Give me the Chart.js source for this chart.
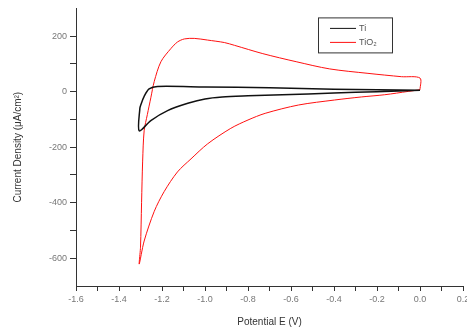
<!DOCTYPE html>
<html>
<head>
<meta charset="utf-8">
<script src="https://cdn.jsdelivr.net/npm/chart.js@4.4.0/dist/chart.umd.min.js"></script>
<style>
  html, body { margin: 0; padding: 0; background: #fff; }
  #wrap { width: 467px; height: 335px; }
</style>
</head>
<body>
<div id="wrap"><canvas id="cv"></canvas></div>
<script>
"use strict";
// values
const seriesNames = ["Ti", "TiO\u2082"];

const tiPotential = [0.0, -0.2, -0.4, -0.64, -0.8, -0.92, -1.0, -1.08, -1.174, -1.252, -1.306,
  -1.303, -1.298, -1.283, -1.26, -1.221, -1.0, -0.7, -0.4, -0.2, 0.0];
const tiCurrent = [5, 0, -5, -11, -15, -19, -26, -42, -68, -104, -141,
  -60, -46, -17, 10, 19, 17, 14, 9, 7, 5];

const tio2Potential = [0.0, -0.055, -0.164, -0.273, -0.397, -0.565, -0.72, -0.8, -0.88, -0.988, -1.065,
  -1.128, -1.19, -1.236, -1.283, -1.306, -1.300, -1.295, -1.29, -1.283, -1.268,
  -1.252, -1.236, -1.205, -1.159, -1.128, -1.096, -1.05, -0.989, -0.91, -0.863,
  -0.731, -0.576, -0.42, -0.242, -0.086, 0.0, 0.0];
const tio2Current = [7, 1, -11, -19, -30, -48, -78, -102, -132, -188, -242,
  -289, -360, -431, -538, -621, -560, -400, -250, -141, -82,
  -22, 37, 108, 155, 179, 190, 192, 186, 177, 167,
  137, 108, 82, 66, 54, 49, 7];

const xTickValues = [-1.6, -1.5, -1.4, -1.3, -1.2, -1.1, -1.0, -0.9, -0.8, -0.7,
  -0.6, -0.5, -0.4, -0.3, -0.2, -0.1, 0.0, 0.1, 0.2];
const xTickLabels = ["-1.6", "-1.4", "-1.2", "-1.0", "-0.8", "-0.6", "-0.4", "-0.2", "0.0", "0.2"];
const yTickValues = [-600, -500, -400, -300, -200, -100, 0, 100, 200];
const yTickLabels = ["-600", "-400", "-200", "0", "200"];

const toPoints = (xs, ys) => xs.map((x, i) => ({ x: x, y: ys[i] }));

const axisColor = "#333";
const tickFont = { family: "Liberation Sans, Arial, sans-serif", size: 9 };
const titleFont = { family: "Liberation Sans, Arial, sans-serif", size: 10 };

// boxed legend inside the plot, like the original
const boxLegend = {
  id: "boxLegend",
  afterDraw(chart) {
    const ctx = chart.ctx;
    const a = chart.chartArea;
    const bx = a.left + 242, by = a.top + 9, bw = 74, bh = 35;
    ctx.save();
    ctx.strokeStyle = "#333";
    ctx.lineWidth = 1;
    ctx.strokeRect(bx + 0.5, by + 0.5, bw, bh);
    ctx.font = "9px Liberation Sans, DejaVu Sans, sans-serif";
    ctx.textBaseline = "middle";
    chart.data.datasets.forEach((ds, i) => {
      const ly = by + 11 + i * 14;
      ctx.strokeStyle = ds.borderColor;
      ctx.lineWidth = 1;
      ctx.beginPath();
      ctx.moveTo(bx + 12, ly);
      ctx.lineTo(bx + 38, ly);
      ctx.stroke();
      ctx.fillStyle = "#555";
      ctx.fillText(ds.label, bx + 41, ly);
    });
    ctx.restore();
  },
};

new Chart(document.getElementById("cv"), {
  type: "scatter",
  data: {
    datasets: [
      {
        label: seriesNames[0],
        data: toPoints(tiPotential, tiCurrent),
        showLine: true,
        borderColor: "#111",
        borderWidth: 1.5,
        pointRadius: 0,
        tension: 0.3,
      },
      {
        label: seriesNames[1],
        data: toPoints(tio2Potential, tio2Current),
        showLine: true,
        borderColor: "#ff1010",
        borderWidth: 1,
        pointRadius: 0,
        tension: 0.3,
      },
    ],
  },
  options: {
    responsive: true,
    maintainAspectRatio: false,
    animation: false,
    layout: { padding: { top: 8, right: 4, left: 0, bottom: 0 } },
    plugins: {
      legend: { display: false },
      tooltip: { enabled: false },
    },
    scales: {
      x: {
        type: "linear",
        position: "bottom",
        min: -1.6,
        max: 0.2,
        afterBuildTicks: (s) => { s.ticks = xTickValues.map((v) => ({ value: v })); },
        afterFit: (s) => { s.height = 49; s.paddingRight = 0; s.paddingLeft = 0; },
        ticks: {
          autoSkip: false,
          maxRotation: 0,
          padding: 3,
          color: "#777",
          font: tickFont,
          callback: (v) => {
            const t = v.toFixed(1);
            return xTickLabels.includes(t) ? t : "";
          },
        },
        grid: { drawOnChartArea: false, tickLength: 5, color: axisColor },
        border: { display: true, color: axisColor, width: 1 },
        title: {
          display: true,
          text: "Potential E (V)",
          color: "#333",
          font: titleFont,
          padding: { top: 0, bottom: 7 },
        },
      },
      y: {
        type: "linear",
        min: -700,
        max: 300,
        afterBuildTicks: (s) => { s.ticks = yTickValues.map((v) => ({ value: v })); },
        afterFit: (s) => { s.width = 76; },
        ticks: {
          autoSkip: false,
          padding: 3,
          color: "#777",
          font: tickFont,
          callback: (v) => (yTickLabels.includes(String(v)) ? String(v) : ""),
        },
        grid: { drawOnChartArea: false, tickLength: 6, color: axisColor },
        border: { display: true, color: axisColor, width: 1 },
        title: {
          display: true,
          text: "Current Density (\u03bcA/cm\u00b2)",
          color: "#333",
          font: titleFont,
          padding: { top: 12, bottom: 0 },
        },
      },
    },
  },
  plugins: [boxLegend],
});
</script>
</body>
</html>
